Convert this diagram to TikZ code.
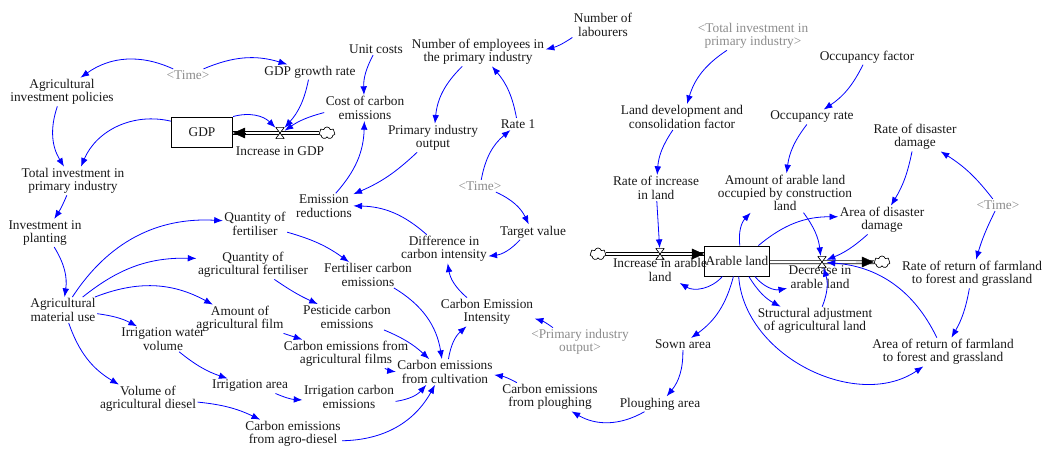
\documentclass[tikz,border=0pt]{standalone}
\usepackage{fontspec}
\setmainfont{Liberation Serif}
\usetikzlibrary{arrows.meta}
\usetikzlibrary{shapes.symbols}
\pgfdeclarelayer{bg}
\pgfsetlayers{bg,main}

\tikzset{
  var/.style={align=center, inner sep=1pt, text=black!90, font=\fontsize{10}{10}\selectfont},
  ghost/.style={var, text=black!45},
  stock/.style={draw, line width=0.7pt, minimum width=46pt, minimum height=22.5pt, fill=white, var},
  link/.style={blue, line width=0.6pt, -{Latex[length=6.5pt,width=5pt]}},
  pipe/.style={line width=0.5pt, double distance=2pt},
  flowtip/.style={line width=0.3pt, shorten <=22pt, -{Triangle[length=9pt,width=8pt]}},
  valve/.style={rectangle, inner sep=0pt, minimum width=6.5pt, minimum height=8.5pt,
    path picture={\draw[line width=0.5pt, fill=white]
      (path picture bounding box.north west) -- (path picture bounding box.north east)
      -- (path picture bounding box.south west) -- (path picture bounding box.south east) -- cycle;}},
  cloudy/.style={cloud, cloud puffs=7, aspect=1.4, draw, fill=white, line width=0.5pt,
    inner sep=0pt, minimum width=12pt, minimum height=9pt}
}

\begin{document}
\begin{tikzpicture}[x=0.75pt,y=-0.75pt]
\useasboundingbox (0,0) rectangle (1045,449);

% GDP and investment
\node[ghost] (time1) at (188,75) {\textless Time\textgreater};
\node[var] (gdprate) at (310,72) {GDP growth rate};
\node[var] (aip) at (62,92) {Agricultural\\investment policies};
\node[stock] (gdp) at (202,132) {GDP};
\node[valve] (incgdp) at (280,133) {};
\node[var] (incgdplbl) at (280,151) {Increase in GDP};
\node[cloudy] (gdpsrc) at (327,133) {};
\node[var] (unitcost) at (376,49) {Unit costs};
\node[var] (cce) at (365,108) {Cost of carbon\\emissions};
\node[var] (totinv) at (73,181) {Total investment in\\primary industry};
\node[var] (invplant) at (45,233) {Investment in\\planting};

% employees and intensity
\node[var] (labour) at (603,25) {Number of\\labourers};
\node[var] (numemp) at (478,52) {Number of employees in\\the primary industry};
\node[var] (pio) at (433,138) {Primary industry\\output};
\node[var] (rate1) at (518,124) {Rate 1};
\node[ghost] (time2) at (480,186) {\textless Time\textgreater};
\node[var] (er) at (324,206) {Emission\\reductions};
\node[var] (target) at (533,232) {Target value};
\node[var] (diff) at (444,249) {Difference in\\carbon intensity};
\node[var] (cei) at (487,312) {Carbon Emission\\Intensity};
\node[ghost] (pioshadow) at (580,342) {\textless Primary industry\\output\textgreater};

% agricultural inputs
\node[var] (amu) at (63,310) {Agricultural\\material use};
\node[var] (qfert) at (255,224) {Quantity of\\fertiliser};
\node[var] (qafert) at (253,265) {Quantity of\\agricultural fertiliser};
\node[var] (film) at (240,319) {Amount of\\agricultural film};
\node[var] (iwv) at (163,339) {Irrigation water\\volume};
\node[var] (diesel) at (148,399) {Volume of\\agricultural diesel};
\node[var] (irrarea) at (250,386) {Irrigation area};
\node[var] (fce) at (368,275) {Fertiliser carbon\\emissions};
\node[var] (pce) at (347,317) {Pesticide carbon\\emissions};
\node[var] (cefilm) at (346,354) {Carbon emissions from\\agricultural films};
\node[var] (ice) at (349,397) {Irrigation carbon\\emissions};
\node[var] (ceagro) at (293,434) {Carbon emissions\\from agro-diesel};
\node[var] (cult) at (445,372) {Carbon emissions\\from cultivation};
\node[var] (ceplough) at (550,397) {Carbon emissions\\from ploughing};

% arable land
\node[stock] (al) at (737,261) {Arable land};
\node[cloudy] (alsrc) at (598,254) {};
\node[valve] (incal) at (660,254) {};
\node[var] (incallbl) at (660,270) {Increase in arable\\land};
\node[valve] (decal) at (822,262) {};
\node[var] (decallbl) at (820,277) {Decrease in\\arable land};
\node[cloudy] (alsink) at (882,262) {};
\node[ghost] (tishadow) at (753,36) {\textless Total investment in\\primary industry\textgreater};
\node[var] (landdev) at (682,117) {Land development and\\consolidation factor};
\node[var] (incrate) at (656,188) {Rate of increase\\in land};
\node[var] (occfactor) at (867,57) {Occupancy factor};
\node[var] (occrate) at (812,117) {Occupancy rate};
\node[var] (occupied) at (785,193) {Amount of arable land\\occupied by construction\\land};
\node[var] (disrate) at (915,137) {Rate of disaster\\damage};
\node[var] (disarea) at (882,220) {Area of disaster\\damage};
\node[ghost] (time3) at (998,205) {\textless Time\textgreater};
\node[var] (retrate) at (972,274) {Rate of return of farmland\\to forest and grassland};
\node[var] (retarea) at (943,352) {Area of return of farmland\\to forest and grassland};
\node[var] (structadj) at (815,321) {Structural adjustment\\of agricultural land};
\node[var] (sown) at (683,344) {Sown area};
\node[var] (plougharea) at (660,404) {Ploughing area};

% pipes
\begin{pgfonlayer}{bg}
\draw[pipe] (gdpsrc.west) -- (gdpsrc.west -| gdp.east);
\draw[pipe] (alsrc.east) -- (alsrc.east -| al.west);
\draw[pipe] (decal -| al.east) -- (alsink.west);
\end{pgfonlayer}
\draw[flowtip] (incgdp) -- (incgdp -| gdp.east);
\draw[flowtip] (incal) -- (incal -| al.west);
\draw[flowtip] (decal) -- (alsink.west);

% links
\draw[link] (time1) to[bend right=30] (aip);
\draw[link] (time1) to[bend left=20] (gdprate);
\draw[link] (aip) to[bend right=25] (totinv);
\draw[link] (gdp) to[bend right=40] (totinv);
\draw[link] (gdp.north east) to[bend left=30] (incgdp);
\draw[link] (gdprate) to[bend left=15] (incgdp);
\draw[link] (cce) to[bend right=10] (incgdp);
\draw[link] (unitcost) to[bend right=15] (cce);
\draw[link] (er) to[bend right=20] (cce);
\draw[link] (numemp) to[bend right=20] (pio);
\draw[link] (rate1) to[bend right=15] (numemp);
\draw[link] (labour) to[bend left=10] (numemp);
\draw[link] (pio) to[bend left=10] (er);
\draw[link] (time2) to[bend left=20] (rate1);
\draw[link] (time2) to[bend left=20] (target);
\draw[link] (target) to[bend left=20] (diff);
\draw[link] (diff) to[bend right=20] (er);
\draw[link] (totinv) to[bend left=5] (invplant);
\draw[link] (invplant) to[bend left=20] (amu);
\draw[link] (amu) to[bend left=30] (qfert);
\draw[link] (amu) to[bend left=20] (qafert);
\draw[link] (amu) to[bend left=25] (film);
\draw[link] (amu) to[bend left=10] (iwv);
\draw[link] (amu) to[bend right=20] (diesel);
\draw[link] (qfert) to[bend left=10] (fce);
\draw[link] (qafert) to[bend right=5] (pce);
\draw[link] (film) -- (cefilm);
\draw[link] (iwv) to[bend right=10] (irrarea);
\draw[link] (irrarea) to[bend right=10] (ice);
\draw[link] (diesel) to[bend left=10] (ceagro);
\draw[link] (fce) to[bend left=25] (cult);
\draw[link] (pce) to[bend left=10] (cult);
\draw[link] (cefilm) to[bend right=10] (cult);
\draw[link] (ice) to[bend right=20] (cult);
\draw[link] (ceagro) to[bend right=30] (cult);
\draw[link] (ceplough) to[bend right=10] (cult);
\draw[link] (cult) to[bend left=20] (cei);
\draw[link] (cei) to[bend left=20] (diff);
\draw[link] (pioshadow) to[bend right=10] (cei);
\draw[link] (plougharea) to[bend left=30] (ceplough);
\draw[link] (sown) to[bend left=20] (plougharea);
\draw[link] (al) to[bend left=20] (sown);
\draw[link] (al) to[bend left=40] (incallbl);
\draw[link] (al) to[bend right=15] (structadj);
\draw[link] (al) to[bend right=30] (decallbl);
\draw[link] (al) to[bend left=25] (occupied);
\draw[link] (al) to[bend left=20] (disarea);
\draw[link] (al) to[bend right=60] (retarea);
\draw[link] (occupied) to[bend left=15] (decal);
\draw[link] (disarea) to[bend left=10] (decal);
\draw[link] (structadj) to[bend right=20] (decal);
\draw[link] (retarea) to[bend right=30] (decal);
\draw[link] (disrate) to[bend left=10] (disarea);
\draw[link] (time3) to[bend right=10] (disrate);
\draw[link] (time3) to[bend right=5] (retrate);
\draw[link] (retrate) to[bend left=10] (retarea);
\draw[link] (incrate) -- (incal);
\draw[link] (landdev) to[bend right=15] (incrate);
\draw[link] (tishadow) to[bend right=20] (landdev);
\draw[link] (occfactor) to[bend left=15] (occrate);
\draw[link] (occrate) to[bend right=15] (occupied);
\end{tikzpicture}
\end{document}
